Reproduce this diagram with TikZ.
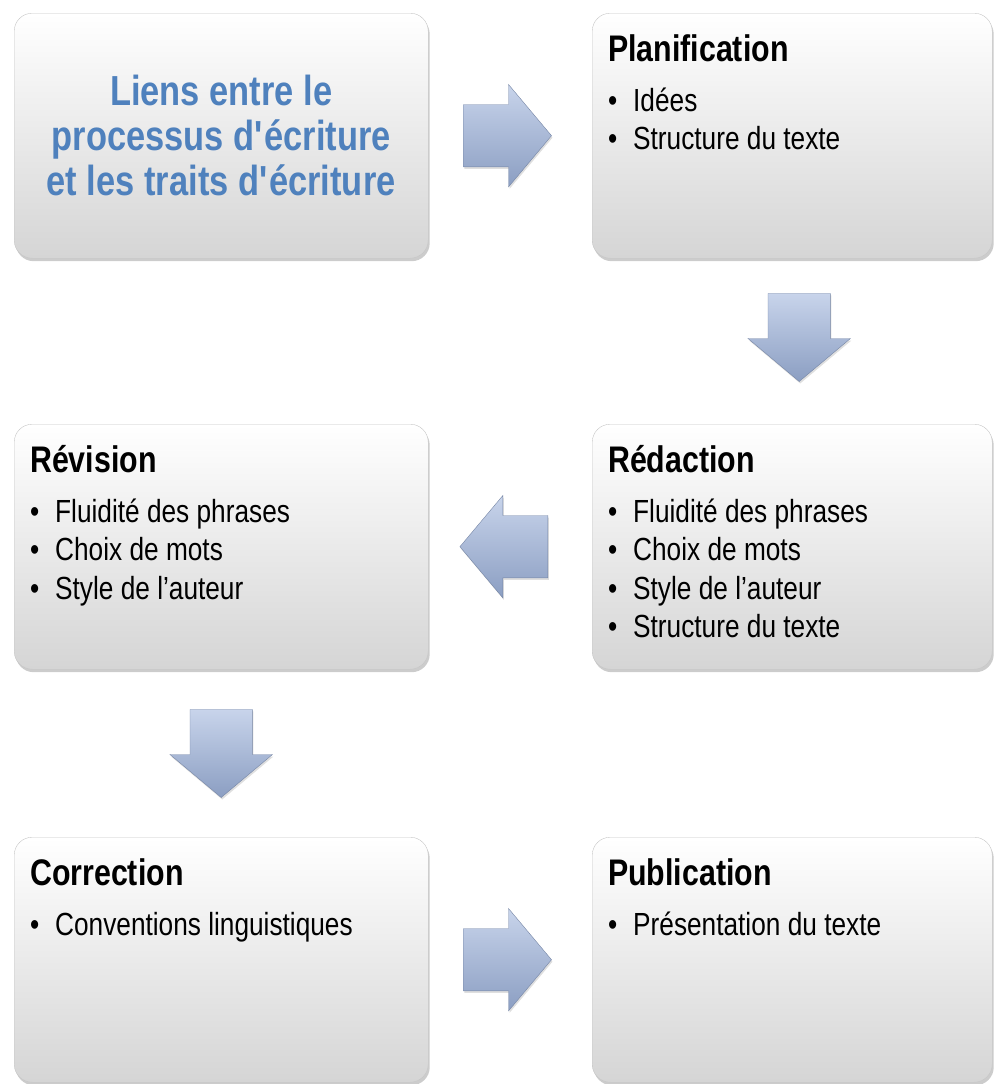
\documentclass[tikz,border=0pt]{standalone}
\usepackage{fontspec}
\setmainfont[FakeStretch=0.82]{Liberation Sans}
\usetikzlibrary{positioning,shapes.arrows,shadows}
\definecolor{titleblue}{HTML}{4F81BD}
\definecolor{arrowtop}{HTML}{C8D4EB}
\definecolor{arrowbot}{HTML}{8B9EC2}
\newcommand{\titre}[1]{{\bfseries\fontsize{37}{44}\selectfont #1}\\[11.5pt]}
\newcommand{\puce}[1]{\makebox[25pt][l]{\textbullet}#1}
\tikzset{
  box/.style={rounded corners=18pt, draw=gray!45, top color=white, bottom color=gray!33,
    drop shadow={opacity=.4,shadow xshift=1.5pt,shadow yshift=-3pt},
    minimum height=245pt, minimum width=414pt, anchor=north west, inner sep=0pt},
  wide/.style={minimum width=400pt},
  titlebox/.style={align=center, text=titleblue, font=\bfseries\fontsize{42}{45}\selectfont},
  blockarrow/.style={single arrow, single arrow head extend=20pt, single arrow tip angle=100,
    minimum height=88pt, inner xsep=0pt, inner ysep=31pt,
    top color=arrowtop, bottom color=arrowbot, draw=arrowbot!85!black, line width=.4pt,
    drop shadow={opacity=.25,shadow xshift=1pt,shadow yshift=-2pt}},
  content/.style={align=left, inner sep=0pt, font=\fontsize{32}{38.5}\selectfont},
}
\begin{document}
\begin{tikzpicture}[x=1pt,y=-1pt]
\useasboundingbox (0,0) rectangle (994,1084);
% boites
\node[box,titlebox] (lien) at (14,13)
  {Liens entre le\\processus d\textquotesingle écriture\\et les traits d\textquotesingle écriture};
\node[box,wide] (plan) at (592,13) {};
\node[box] (rev) at (14,424) {};
\node[box,wide] (red) at (592,424) {};
\node[box] (corr) at (14,837) {};
\node[box,wide] (pub) at (592,837) {};
% textes
\node[content,below right=21pt and 16pt of plan.north west] (tplan)
  {\titre{Planification}\puce{Idées}\\\puce{Structure du texte}};
\node[content,below right=21pt and 16pt of red.north west] (tred)
  {\titre{Rédaction}\puce{Fluidité des phrases}\\\puce{Choix de mots}\\
   \puce{Style de l’auteur}\\\puce{Structure du texte}};
\node[content,below right=21pt and 16pt of rev.north west] (trev)
  {\titre{Révision}\puce{Fluidité des phrases}\\\puce{Choix de mots}\\
   \puce{Style de l’auteur}};
\node[content,below right=21pt and 16pt of corr.north west] (tcorr)
  {\titre{Correction}\puce{Conventions linguistiques}};
\node[content,below right=21pt and 16pt of pub.north west] (tpub)
  {\titre{Publication}\puce{Présentation du texte}};
% fleches
\coordinate[right=66pt of lien] (m1);
\coordinate[below=66pt of plan,xshift=7pt] (m2);
\coordinate[left=75pt of red] (m3);
\coordinate[below=71pt of rev] (m4);
\coordinate[right=66pt of corr] (m5);
\node[blockarrow] (f1) at (m1) {};
\node[blockarrow,rotate=-90] (f2) at (m2) {};
\node[blockarrow,rotate=180] (f3) at (m3) {};
\node[blockarrow,rotate=-90] (f4) at (m4) {};
\node[blockarrow] (f5) at (m5) {};
\end{tikzpicture}
\end{document}
